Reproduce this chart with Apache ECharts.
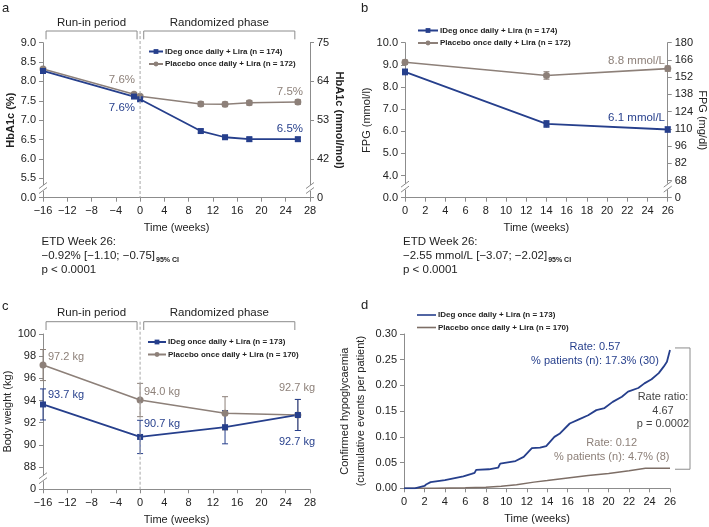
<!DOCTYPE html>
<html><head><meta charset="utf-8">
<script src="https://cdn.jsdelivr.net/npm/echarts@6/dist/echarts.min.js"></script>
<style>html,body{margin:0;padding:0;background:#fff}#c{width:709px;height:527px}</style>
</head><body><div id="c"></div>
<script>
// ---------- DATA ----------
// Panel a: HbA1c (%)
const weeksA = [-16, -1, 0, 10, 14, 18, 26];
const hba1cIDeg = [8.27, 7.61, 7.54, 6.72, 6.56, 6.51, 6.51];
const hba1cPlacebo = [8.32, 7.67, 7.62, 7.42, 7.41, 7.45, 7.47];
const hba1cErrIDeg = [0.04, 0.04, 0.04, 0.05, 0.05, 0.05, 0.05];
const hba1cErrPlacebo = [0.04, 0.04, 0.04, 0.06, 0.06, 0.06, 0.06];
const hba1cLeftTicks = {5: '0.0'};
const hba1cRightTicks = {9: '75', 8: '64', 7: '53', 6: '42', 5: '0'};
// Panel b: FPG (mmol/l)
const weeksB = [0, 14, 26];
const fpgIDeg = [8.68, 6.33, 6.08];
const fpgPlacebo = [9.12, 8.52, 8.83];
const fpgErrIDeg = [0.13, 0.15, 0.12];
const fpgErrPlacebo = [0.10, 0.17, 0.12];
const fpgRightTicks = {0: '0', 14: '68', 28: '82', 42: '96', 56: '110', 70: '124', 84: '138', 98: '152', 112: '166', 126: '180'};
// Panel c: body weight (kg)
const weeksC = [-16, 0, 14, 26];
const bwIDeg = [93.65, 90.72, 91.6, 92.7];
const bwPlacebo = [97.2, 94.05, 92.85, 92.7];
const bwErrIDeg = [1.4, 1.5, 1.5, 1.4];
const bwErrPlacebo = [1.4, 1.5, 1.5, 1.4];
// Panel d: cumulative confirmed hypoglycaemia
const hypoWeeksIDeg = [0, 1.05, 1.1, 2.0, 2.2, 2.6, 4.0, 5.8, 6.6, 6.9, 7.05, 8.3, 9.2, 9.4, 10.9, 11.7, 12.5, 13.3, 13.9, 14.7, 15.2, 16.2, 17.1, 18.0, 18.8, 19.6, 20.4, 21.3, 21.9, 22.9, 23.5, 24.2, 24.9, 25.4, 25.7, 26.0];
const hypoIDeg = [0, 0, 0.0035, 0.0045, 0.008, 0.012, 0.016, 0.023, 0.028, 0.030, 0.036, 0.037, 0.040, 0.048, 0.053, 0.061, 0.078, 0.079, 0.082, 0.100, 0.106, 0.126, 0.134, 0.142, 0.152, 0.156, 0.168, 0.178, 0.188, 0.195, 0.204, 0.212, 0.224, 0.237, 0.246, 0.269];
const hypoWeeksPlacebo = [0, 3, 6, 8, 9.5, 11, 12.7, 14, 16, 18, 20, 22, 23.6, 26];
const hypoPlacebo = [0, 0, 0.001, 0.002, 0.004, 0.007, 0.012, 0.015, 0.020, 0.025, 0.029, 0.034, 0.039, 0.039];

const legendNames = {
  aI: 'IDeg once daily + Lira (n = 174)', aP: 'Placebo once daily + Lira (n = 172)',
  bI: 'IDeg once daily + Lira (n = 174)', bP: 'Placebo once daily + Lira (n = 172)',
  cI: 'IDeg once daily + Lira (n = 173)', cP: 'Placebo once daily + Lira (n = 170)',
  dI: 'IDeg once daily + Lira (n = 173)', dP: 'Placebo once daily + Lira (n = 170)'
};

// ---------- STYLE ----------
const FONT = '"Liberation Sans", Arial, Helvetica, sans-serif';
const BLUE = '#263f8c', GRAY = '#8d8079', AX = '#8c8c8c', TXT = '#222';
const neg = v => (v < 0 ? '\u2212' + Math.abs(v) : String(v));

function xAx(gi, min, max, interval) {
  return {type: 'value', gridIndex: gi, min, max, interval,
    name: 'Time (weeks)', nameLocation: 'middle', nameGap: 25,
    nameTextStyle: {fontSize: 11, color: TXT, fontFamily: FONT},
    axisLine: {show: true, onZero: false, lineStyle: {color: AX, width: 1}},
    axisTick: {show: true, length: 4, lineStyle: {color: AX}},
    axisLabel: {fontSize: 11, color: TXT, margin: 8, fontFamily: FONT, formatter: neg},
    splitLine: {show: false}};
}
function yAx(gi, min, max, interval, name, fmt, opts) {
  return Object.assign({type: 'value', gridIndex: gi, min, max, interval, name,
    nameLocation: 'middle', nameRotate: 90, nameGap: 24,
    nameTextStyle: {fontSize: 11, color: TXT, fontFamily: FONT},
    axisLine: {show: true, onZero: false, lineStyle: {color: AX, width: 1}},
    axisTick: {show: true, length: 4, lineStyle: {color: AX}},
    axisLabel: {fontSize: 11, color: TXT, margin: 7, fontFamily: FONT, formatter: fmt},
    splitLine: {show: false}}, opts || {});
}
function lineS(name, xi, yi, xs, ys, color, symbol, size, width) {
  return {type: 'line', name, xAxisIndex: xi, yAxisIndex: yi,
    data: xs.map((x, i) => [x, ys[i]]), symbol, symbolSize: size, showSymbol: symbol !== 'none',
    lineStyle: {color, width}, itemStyle: {color}, z: 3, silent: true, animation: false};
}
function errS(xi, yi, xs, ys, errs, color) {
  return {type: 'custom', xAxisIndex: xi, yAxisIndex: yi, silent: true, animation: false, z: 2,
    data: xs.map((x, i) => [x, ys[i] - errs[i], ys[i] + errs[i]]),
    encode: {x: 0, y: [1, 2]},
    renderItem: (p, api) => {
      const x = api.value(0);
      const lo = api.coord([x, api.value(1)]), hi = api.coord([x, api.value(2)]);
      const w = 3, st = {stroke: color, lineWidth: 1};
      return {type: 'group', children: [
        {type: 'line', shape: {x1: lo[0], y1: lo[1], x2: hi[0], y2: hi[1]}, style: st},
        {type: 'line', shape: {x1: lo[0] - w, y1: lo[1], x2: lo[0] + w, y2: lo[1]}, style: st},
        {type: 'line', shape: {x1: hi[0] - w, y1: hi[1], x2: hi[0] + w, y2: hi[1]}, style: st}]};
    }};
}
function leg(keys, left, top, iw, extra) {
  return Object.assign({data: keys, left, top, orient: 'vertical', itemWidth: iw, itemHeight: 6, itemGap: 2.5,
    padding: 0, selectedMode: false, formatter: n => legendNames[n],
    textStyle: {fontSize: 8, fontWeight: 'bold', color: TXT, fontFamily: FONT, lineHeight: 10, padding: [0, 0, 0, -3]}}, extra || {});
}

const chart = echarts.init(document.getElementById('c'), null, {renderer: 'canvas'});
const option = {
  backgroundColor: '#fff', animation: false,
  grid: [
    {left: 43, top: 42.7, width: 267, height: 155},
    {left: 405, top: 42.7, width: 265, height: 155},
    {left: 43, top: 334, width: 267, height: 155.3},
    {left: 404, top: 334, width: 266, height: 154.3}
  ],
  xAxis: [xAx(0, -16, 28, 4), xAx(1, 0, 26, 2), xAx(2, -16, 28, 4), xAx(3, 0, 26, 2)],
  yAxis: [
    yAx(0, 5, 9, 0.5, 'HbA1c (%)', v => hba1cLeftTicks[v] || v.toFixed(1), {nameGap: 27, nameTextStyle: {fontSize: 11, fontWeight: 'bold', color: TXT, fontFamily: FONT}}),
    yAx(0, 5, 9, 1, 'HbA1c (mmol/mol)', v => hba1cRightTicks[v], {position: 'right', nameRotate: -90, nameGap: 20, nameTextStyle: {fontSize: 11, fontWeight: 'bold', color: TXT, fontFamily: FONT}}),
    yAx(1, 3, 10, 1, 'FPG (mmol/l)', v => (v === 3 ? '0.0' : v.toFixed(1)), {nameGap: 29}),
    yAx(1, 0, 126, 14, 'FPG (mg/dl)', v => fpgRightTicks[v], {position: 'right', nameRotate: -90, nameGap: 27}),
    yAx(2, 86, 100, 2, 'Body weight (kg)', v => (v === 86 ? '0' : String(v)), {nameGap: 26}),
    yAx(3, 0, 0.30, 0.05, 'Confirmed hypoglycaemia\n(cumulative events per patient)', v => v.toFixed(2), {nameGap: 35, nameTextStyle: {fontSize: 11, color: TXT, fontFamily: FONT, lineHeight: 16}})
  ],
  legend: [leg(['aI', 'aP'], 148, 46.5, 14), leg(['bI', 'bP'], 417, 25.5, 20), leg(['cI', 'cP'], 147, 337, 18),
           leg(['dI', 'dP'], 417, 310, 19, {icon: 'rect', itemHeight: 1.6, itemGap: 2.5})],
  series: [
    errS(0, 0, weeksA, hba1cPlacebo, hba1cErrPlacebo, GRAY),
    errS(0, 0, weeksA, hba1cIDeg, hba1cErrIDeg, BLUE),
    lineS('aP', 0, 0, weeksA, hba1cPlacebo, GRAY, 'circle', 7, 1.6),
    lineS('aI', 0, 0, weeksA, hba1cIDeg, BLUE, 'rect', 6, 1.8),
    errS(1, 2, weeksB, fpgPlacebo, fpgErrPlacebo, GRAY),
    errS(1, 2, weeksB, fpgIDeg, fpgErrIDeg, BLUE),
    lineS('bP', 1, 2, weeksB, fpgPlacebo, GRAY, 'circle', 7, 1.6),
    lineS('bI', 1, 2, weeksB, fpgIDeg, BLUE, 'rect', 6, 1.8),
    errS(2, 4, weeksC, bwPlacebo, bwErrPlacebo, GRAY),
    errS(2, 4, weeksC, bwIDeg, bwErrIDeg, BLUE),
    lineS('cP', 2, 4, weeksC, bwPlacebo, GRAY, 'circle', 7, 1.6),
    lineS('cI', 2, 4, weeksC, bwIDeg, BLUE, 'rect', 6, 1.8),
    lineS('dP', 3, 5, hypoWeeksPlacebo, hypoPlacebo, '#7d6e66', 'none', 0, 1.5),
    lineS('dI', 3, 5, hypoWeeksIDeg, hypoIDeg, BLUE, 'none', 0, 1.8)
  ]
};
chart.setOption(option);

// ---------- DECORATIONS ----------
const px = (g, x, y) => chart.convertToPixel({gridIndex: g}, [x, y]);
const el = [];
const mctx = document.createElement('canvas').getContext('2d');
function txt(t, x, y, align, color, size, weight) {
  el.push({type: 'text', silent: true, z: 10, style: {text: t, x, y, fill: color || TXT,
    font: (weight || 'normal') + ' ' + (size || 11) + 'px ' + FONT,
    textAlign: align || 'left', align: align || 'left', textVerticalAlign: 'middle', verticalAlign: 'middle'}});
}
function seg(x1, y1, x2, y2, color, dash) {
  el.push({type: 'line', silent: true, z: 10, shape: {x1, y1, x2, y2}, style: {stroke: color || AX, lineWidth: 1, lineDash: dash || null}});
}
function brk(x, y) {
  el.push({type: 'rect', silent: true, z: 11, shape: {x: x - 1.5, y: y - 3, width: 3, height: 6}, style: {fill: '#fff'}});
  seg(x - 4, y + 0.5, x + 4, y - 5.5); el[el.length - 1].z = 12;
  seg(x - 4, y + 5.5, x + 4, y - 0.5); el[el.length - 1].z = 12;
}
// panel letters
txt('a', 2, 8, 'left', TXT, 13); txt('b', 361, 8, 'left', TXT, 13);
txt('c', 2, 306, 'left', TXT, 13); txt('d', 361, 305, 'left', TXT, 13);

// brackets + dashed zero line for a and c
[[0, 22.7, 31, 39.3], [2, 313.3, 321.7, 330]].forEach(([g, ty, yT, yB]) => {
  const l1 = px(g, -15.5, 9)[0], r1 = px(g, -0.5, 9)[0], l2 = px(g, 0.6, 9)[0], r2 = px(g, 25.5, 9)[0];
  el.push({type: 'polyline', silent: true, shape: {points: [[l1, yB], [l1, yT], [r1, yT], [r1, yB]]}, style: {stroke: AX, lineWidth: 1, fill: null}});
  el.push({type: 'polyline', silent: true, shape: {points: [[l2, yB], [l2, yT], [r2, yT], [r2, yB]]}, style: {stroke: AX, lineWidth: 1, fill: null}});
  txt('Run-in period', (l1 + r1) / 2, ty, 'center', TXT, 11.5);
  txt('Randomized phase', (l2 + r2) / 2, ty, 'center', TXT, 11.5);
  const x0 = px(g, 0, 9)[0];
  const yBot = g === 0 ? px(0, 0, 5)[1] : px(2, 0, 86)[1];
  seg(x0, yT, x0, yBot, '#a8a8a8', [3, 2]);
});

// axis breaks
brk(px(0, -16, 5.25)[0], px(0, -16, 5.25)[1]);
brk(px(0, 28, 5.25)[0], px(0, 28, 5.25)[1]);
brk(px(1, 0, 3.5)[0], px(1, 0, 3.5)[1]);
brk(px(1, 26, 3.5)[0], px(1, 26, 3.5)[1]);
brk(px(2, -16, 87)[0], px(2, -16, 87)[1]);

// value annotations
txt('7.6%', 135, 80, 'right', GRAY, 11.5);
txt('7.6%', 135, 108.3, 'right', BLUE, 11.5);
txt('7.5%', 303, 91.7, 'right', GRAY, 11.5);
txt('6.5%', 303, 129.3, 'right', BLUE, 11.5);
txt('8.8 mmol/L', 665, 60.7, 'right', GRAY, 11.5);
txt('6.1 mmol/L', 665, 118.3, 'right', BLUE, 11.5);
txt('97.2 kg', 48, 356.7, 'left', GRAY, 11);
txt('93.7 kg', 48, 395, 'left', BLUE, 11);
txt('94.0 kg', 144, 391.7, 'left', GRAY, 11);
txt('90.7 kg', 144, 424.3, 'left', BLUE, 11);
txt('92.7 kg', 315, 388.3, 'right', GRAY, 11);
txt('92.7 kg', 315, 441.7, 'right', BLUE, 11);
txt('Rate: 0.57', 595, 347.3, 'center', BLUE, 11);
txt('% patients (n): 17.3% (30)', 595, 361, 'center', BLUE, 11);
txt('Rate ratio:', 663, 397.3, 'center', '#444', 11);
txt('4.67', 663, 410.7, 'center', '#444', 11);
txt('p = 0.0002', 663, 424, 'center', '#444', 11);
txt('Rate: 0.12', 611.7, 442.7, 'center', GRAY, 11);
txt('% patients (n): 4.7% (8)', 611.7, 456.7, 'center', GRAY, 11);

// rate ratio bracket in d
const topY = px(3, 26, hypoIDeg[hypoIDeg.length - 1])[1] - 2;
const botY = px(3, 26, hypoPlacebo[hypoPlacebo.length - 1])[1] + 1;
el.push({type: 'polyline', silent: true, shape: {points: [[675, topY], [690, topY], [690, botY], [675, botY]]}, style: {stroke: AX, lineWidth: 1, fill: null}});

// ETD texts
function etd(x, l2main) {
  txt('ETD Week 26:', x, 242, 'left', TXT, 11.5);
  txt(l2main, x, 256.3, 'left', TXT, 11.5);
  mctx.font = '11.5px ' + FONT;
  const w = mctx.measureText(l2main).width;
  txt('95% CI', x + w + 1, 259.8, 'left', TXT, 7, 'bold');
  txt('p < 0.0001', x, 269.7, 'left', TXT, 11.5);
}
etd(41.5, '\u22120.92% [\u22121.10; \u22120.75]');
etd(403, '\u22122.55 mmol/L [\u22123.07; \u22122.02]');

chart.setOption({graphic: {elements: el}});
</script></body></html>
